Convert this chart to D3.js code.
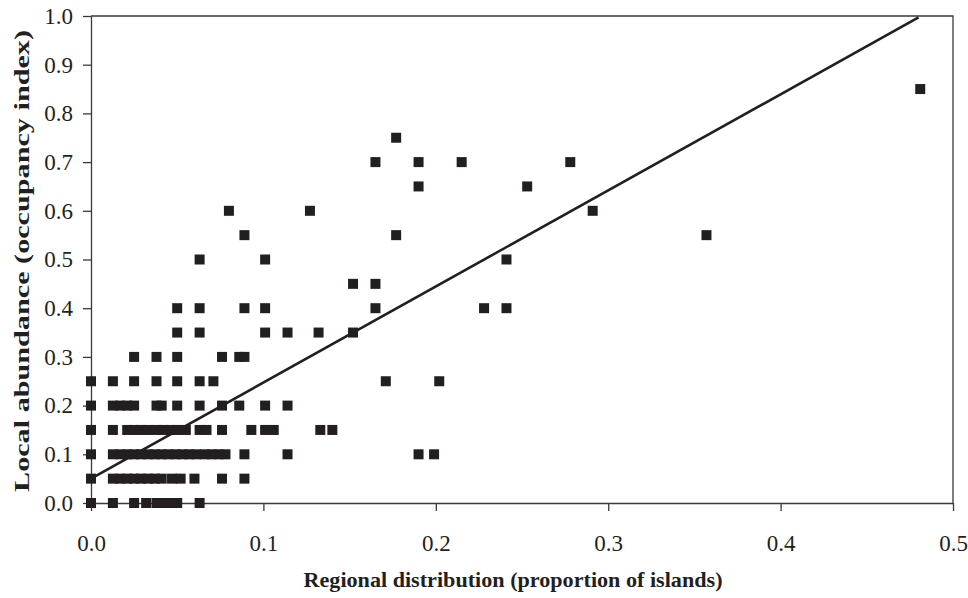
<html>

<head>
  <script src="https://d3js.org/d3.v7.min.js"></script>
  <style>
    body { margin: 0; background: #fff; }
    .axis text { font-family: "Liberation Serif", "Times New Roman", serif; font-size: 23px; fill: #231f20; }
    .axis path, .axis line { stroke: #3a3a3a; stroke-width: 1.3; }
    .title { font-family: "Liberation Serif", "Times New Roman", serif; font-weight: bold; font-size: 21px; fill: #231f20; }
  </style>
</head>

<body>
  <svg width="968" height="598" id="chart"></svg>
  <script>
    // occupancy index levels (y) and the regional distribution values (x) found at each level
    const occupancyLevels = [0, 0.05, 0.1, 0.15, 0.2, 0.25, 0.3, 0.35, 0.4, 0.45, 0.5, 0.55, 0.6, 0.65, 0.7, 0.75, 0.85];
    const regionalByLevel = [
      [0, 0.0127, 0.025, 0.032, 0.038, 0.042, 0.046, 0.05, 0.063],
      [0, 0.0127, 0.017, 0.021, 0.025, 0.029, 0.033, 0.037, 0.041, 0.047, 0.052, 0.06, 0.076, 0.089],
      [0, 0.0127, 0.017, 0.021, 0.025, 0.029, 0.033, 0.037, 0.041, 0.045, 0.049, 0.053, 0.057, 0.061, 0.066, 0.07, 0.074, 0.078, 0.089, 0.114, 0.19, 0.199],
      [0, 0.0127, 0.021, 0.025, 0.029, 0.033, 0.038, 0.042, 0.046, 0.05, 0.055, 0.063, 0.067, 0.076, 0.093, 0.101, 0.106, 0.133, 0.14],
      [0, 0.0127, 0.017, 0.021, 0.025, 0.038, 0.041, 0.05, 0.063, 0.076, 0.086, 0.101, 0.114],
      [0, 0.0127, 0.025, 0.038, 0.05, 0.063, 0.071, 0.171, 0.202],
      [0.025, 0.038, 0.05, 0.076, 0.086, 0.089],
      [0.05, 0.063, 0.101, 0.114, 0.132, 0.152],
      [0.05, 0.063, 0.089, 0.101, 0.165, 0.228, 0.241],
      [0.152, 0.165],
      [0.063, 0.101, 0.241],
      [0.089, 0.177, 0.357],
      [0.08, 0.127, 0.291],
      [0.19, 0.253],
      [0.165, 0.19, 0.215, 0.278],
      [0.177],
      [0.481]
    ];
    // fitted line: y = intercept + slope * x, drawn over the observed x range
    const fitIntercept = 0.05;
    const fitSlope = 1.973;
    const fitRange = [0, 0.48];

    const xTicks = [0, 0.1, 0.2, 0.3, 0.4, 0.5];
    const yTicks = [0, 0.1, 0.2, 0.3, 0.4, 0.5, 0.6, 0.7, 0.8, 0.9, 1.0];

    const points = [];
    occupancyLevels.forEach((lvl, i) => {
      regionalByLevel[i].forEach(x => points.push({ x: x, y: lvl }));
    });

    const svg = d3.select("#chart");
    const margins = { top: 16, right: 15, bottom: 95, left: 91 };
    const width = +svg.attr("width") - margins.left - margins.right;
    const height = +svg.attr("height") - margins.top - margins.bottom;

    const xScale = d3.scaleLinear().domain([0, 0.5]).range([0, width]);
    const yScale = d3.scaleLinear().domain([0, 1.0]).range([height, 0]);

    const g = svg.append("g").attr("transform", `translate(${margins.left},${margins.top})`);

    // frame on top and right
    g.append("path")
      .attr("d", `M0,0H${width}V${height}`)
      .attr("fill", "none")
      .attr("stroke", "#3a3a3a")
      .attr("stroke-width", 1.3);

    const leftAxis = d3.axisLeft(yScale).tickValues(yTicks).tickSize(8).tickSizeOuter(0).tickPadding(10)
      .tickFormat(d3.format(".1f"));
    g.append("g").attr("class", "axis").call(leftAxis);

    const bottomAxis = d3.axisBottom(xScale).tickValues(xTicks).tickSize(8).tickSizeOuter(0).tickPadding(24)
      .tickFormat(d3.format(".1f"));
    g.append("g").attr("class", "axis")
      .attr("transform", `translate(0,${height})`)
      .call(bottomAxis);

    // squares
    const s = 10;
    g.selectAll("rect.pt").data(points)
      .join("rect").attr("class", "pt")
      .attr("x", d => xScale(d.x) - s / 2)
      .attr("y", d => yScale(d.y) - s / 2)
      .attr("width", s)
      .attr("height", s)
      .attr("fill", "#231f20");

    // regression line
    const line = d3.line().x(d => xScale(d)).y(d => yScale(fitIntercept + fitSlope * d));
    g.append("path")
      .datum(fitRange)
      .attr("d", line)
      .attr("fill", "none")
      .attr("stroke", "#231f20")
      .attr("stroke-width", 2.6);

    // axis titles
    svg.append("text").attr("class", "title")
      .attr("x", margins.left + width / 2 - 9)
      .attr("y", 587)
      .attr("text-anchor", "middle")
      .attr("textLength", 419)
      .attr("lengthAdjust", "spacingAndGlyphs")
      .text("Regional distribution (proportion of islands)");

    svg.append("text").attr("class", "title")
      .attr("transform", `translate(29,261) rotate(-90)`)
      .attr("text-anchor", "middle")
      .attr("textLength", 462)
      .attr("lengthAdjust", "spacingAndGlyphs")
      .text("Local abundance  (occupancy index)");
  </script>
</body>

</html>
